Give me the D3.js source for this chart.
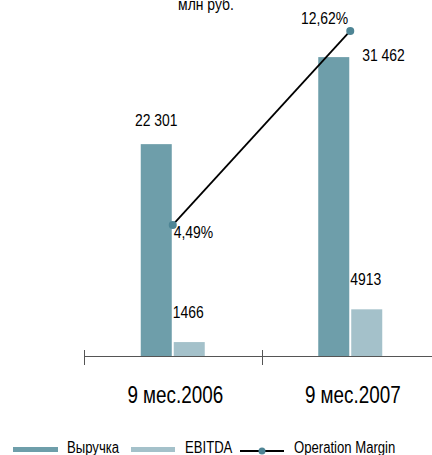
<!DOCTYPE html>
<html>
<head>
<meta charset="utf-8">
<script src="https://cdn.jsdelivr.net/npm/d3@7/dist/d3.min.js"></script>
<style>
  html, body { margin: 0; padding: 0; background: #fff; }
  svg { display: block; }
  text { font-family: "Liberation Sans", Arial, sans-serif; fill: #000; }
</style>
</head>
<body>
<svg id="chart" width="432" height="455"></svg>
<script>
// Categories and series
const categories = ["9 мес.2006", "9 мес.2007"];
const seriesNames = ["Выручка", "EBITDA"];
const revenue = [22301, 31462];
const ebitda = [1466, 4913];
const margin = [4.49, 12.62];
const revenueLabels = ["22 301", "31 462"];
const ebitdaLabels = ["1466", "4913"];
const marginLabels = ["4,49%", "12,62%"];

const colors = { rev: "#6e9eaa", ebitda: "#a4c1ca", line: "#000", marker: "#4e8595" };

const svg = d3.select("#chart");
const W = 432, H = 455;

// Narrow text: regular sans squeezed horizontally around its anchor
const NARROW = 0.82;
function addText(parent, x, yy, str, size, anchor = "start") {
  return parent.append("text")
    .attr("transform", `translate(${x},${yy}) scale(${NARROW},1)`)
    .attr("text-anchor", anchor)
    .attr("font-size", size)
    .text(str);
}

// Scales
const x = d3.scaleBand().domain(categories).range([84, 439]).paddingInner(0).paddingOuter(0);
const x1 = d3.scaleBand().domain(seriesNames).range([-32, 32]).paddingInner(0.06);
const y = d3.scaleLinear().domain([0, 35000]).range([356, 23.5]);
const y2 = d3.scaleLinear().domain([0, 14]).range([332, -2]);
const cx = c => x(c) + x.bandwidth() / 2;

// Title
addText(svg, 206, 9.5, "млн руб.", 17, "middle");

// Bars
const g = svg.append("g");
g.selectAll("rect.rev").data(categories).join("rect").attr("class", "rev")
  .attr("x", c => cx(c) + x1("Выручка"))
  .attr("width", x1.bandwidth())
  .attr("y", (c, i) => y(revenue[i]))
  .attr("height", (c, i) => y(0) - y(revenue[i]))
  .attr("fill", colors.rev);
g.selectAll("rect.eb").data(categories).join("rect").attr("class", "eb")
  .attr("x", c => cx(c) + x1("EBITDA"))
  .attr("width", x1.bandwidth())
  .attr("y", (c, i) => y(ebitda[i]))
  .attr("height", (c, i) => y(0) - y(ebitda[i]))
  .attr("fill", colors.ebitda);

// Category axis: baseline with ticks at category boundaries
const axisY = y(0) + 0.5;
svg.append("line").attr("x1", x.range()[0]).attr("x2", W).attr("y1", axisY).attr("y2", axisY)
  .attr("stroke", "#555").attr("stroke-width", 1);
svg.selectAll("line.tick").data(categories).join("line").attr("class", "tick")
  .attr("x1", c => Math.round(x(c)) + 0.5).attr("x2", c => Math.round(x(c)) + 0.5)
  .attr("y1", 350).attr("y2", 365)
  .attr("stroke", "#555").attr("stroke-width", 1);
categories.forEach(c => addText(svg, cx(c) + 2.5, 403, c, 23, "middle"));

// Operation margin line
const pts = categories.map((c, i) => [cx(c), y2(margin[i])]);
svg.append("path").attr("d", d3.line()(pts)).attr("fill", "none")
  .attr("stroke", colors.line).attr("stroke-width", 1.8);
svg.selectAll("circle.mk").data(pts).join("circle").attr("class", "mk")
  .attr("cx", d => d[0]).attr("cy", d => d[1]).attr("r", 4).attr("fill", colors.marker);

// Value labels
const lab = svg.append("g");
// revenue
addText(lab, cx(categories[0]) + x1("Выручка") + x1.bandwidth() / 2, y(revenue[0]) - 18,
  revenueLabels[0], 17, "middle");
addText(lab, cx(categories[1]) + 12, y(revenue[1]) + 4, revenueLabels[1], 17, "start");
// ebitda
ebitdaLabels.forEach((t, i) => {
  addText(lab, cx(categories[i]) + x1("EBITDA") - 1, y(ebitda[i]) - 24, t, 17, "start");
});
// margin
addText(lab, pts[0][0] + 1, pts[0][1] + 13, marginLabels[0], 17, "start");
addText(lab, pts[1][0] - 2, pts[1][1] - 7, marginLabels[1], 17, "end");

// Legend
const leg = svg.append("g");
leg.append("rect").attr("x", 13).attr("y", 447).attr("width", 45).attr("height", 5).attr("fill", colors.rev);
addText(leg, 67, 453, seriesNames[0], 16);
leg.append("rect").attr("x", 131).attr("y", 447).attr("width", 44).attr("height", 5).attr("fill", colors.ebitda);
addText(leg, 185, 453, seriesNames[1], 16);
leg.append("line").attr("x1", 240).attr("x2", 284).attr("y1", 451).attr("y2", 451)
  .attr("stroke", colors.line).attr("stroke-width", 1.8);
leg.append("circle").attr("cx", 262).attr("cy", 451).attr("r", 3.5).attr("fill", colors.marker);
addText(leg, 294, 453, "Operation Margin", 16);
</script>
</body>
</html>
